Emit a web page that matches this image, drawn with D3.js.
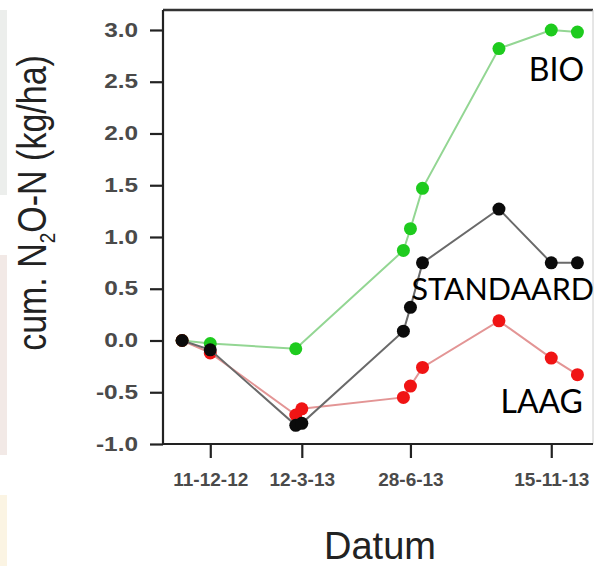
<!DOCTYPE html>
<html>
<head>
<meta charset="utf-8">
<script src="https://cdn.jsdelivr.net/npm/d3@7"></script>
<style>
  body { margin: 0; background: #fff; }
  svg { display: block; }
</style>
</head>
<body>
<div id="chart"></div>
<script>
// measurement dates (shared by all three series)
var dates = ["2012-11-13", "2012-12-11", "2013-03-06", "2013-03-12", "2013-06-21",
  "2013-06-28", "2013-07-10", "2013-09-24", "2013-11-15", "2013-12-11"];

// cumulative N2O-N (kg/ha), null = no measurement
var bioValues = [0, -0.03, -0.08, null, 0.87, 1.08, 1.47, 2.82, 3.0, 2.98];
var standaardValues = [0, -0.09, -0.82, -0.80, 0.09, 0.32, 0.75, 1.27, 0.75, 0.75];
var laagValues = [0, -0.12, -0.72, -0.66, -0.55, -0.44, -0.26, 0.19, -0.17, -0.33];

var xTickDates = ["2012-12-11", "2013-03-12", "2013-06-28", "2013-11-15"];
var yTicks = [-1.0, -0.5, 0.0, 0.5, 1.0, 1.5, 2.0, 2.5, 3.0];

var width = 594,
  height = 566;

var margin = { top: 10, right: 1, bottom: 122, left: 163 };

var parse = d3.timeParse("%Y-%m-%d");
var fmt = d3.timeFormat("%-d-%-m-%y");
var yFmt = function (d) { return d3.format(".1f")(d).replace("\u2212", "-"); };

var svg = d3.select("#chart")
  .append("svg")
  .attr("width", width)
  .attr("height", height);

// faint coloured strips along the left edge of the scan
svg.append("rect").attr("x", 0).attr("y", 10).attr("width", 7).attr("height", 185).style("fill", "#eceeec");
svg.append("rect").attr("x", 0).attr("y", 255).attr("width", 7).attr("height", 200).style("fill", "#f2e9e6");
svg.append("rect").attr("x", 0).attr("y", 495).attr("width", 7).attr("height", 71).style("fill", "#fbf4e3");

var x = d3.scaleTime()
  .domain([parse("2012-10-25"), new Date(2013, 11, 26, 12)])
  .range([margin.left, width - margin.right]);

var y = d3.scaleLinear()
  .domain([-1.0, 3.193])
  .range([height - margin.bottom, margin.top]);

// frame
svg.append("line")
  .attr("x1", margin.left).attr("x2", width - margin.right)
  .attr("y1", margin.top).attr("y2", margin.top)
  .style("stroke", "#333").style("stroke-width", 2.5);
svg.append("line")
  .attr("x1", width - margin.right).attr("x2", width - margin.right)
  .attr("y1", margin.top).attr("y2", height - margin.bottom)
  .style("stroke", "#ccc").style("stroke-width", 1);

var yAxis = svg.append("g")
  .attr("transform", "translate(" + margin.left + ",0)")
  .call(d3.axisLeft(y).tickValues(yTicks).tickFormat(yFmt).tickSize(13).tickPadding(12));

var xAxis = svg.append("g")
  .attr("transform", "translate(0," + (height - margin.bottom) + ")")
  .call(d3.axisBottom(x).tickValues(xTickDates.map(parse)).tickFormat(fmt).tickSize(14).tickPadding(15));

svg.selectAll(".domain, .tick line")
  .style("stroke", "#222")
  .style("stroke-width", 2.2);

xAxis.select(".domain").attr("d", "M" + margin.left + ",0H" + (width - margin.right));
yAxis.select(".domain").attr("d", "M0," + margin.top + "V" + (height - margin.bottom));

xAxis.selectAll(".tick text")
  .style("font-family", "Liberation Sans, Arial, sans-serif")
  .style("font-size", "19px")
  .style("font-weight", "bold")
  .style("fill", "#4a4a4a");

// y tick labels are horizontally stretched in the scan
yAxis.selectAll(".tick text")
  .style("font-family", "Liberation Sans, Arial, sans-serif")
  .style("font-size", "19.5px")
  .style("font-weight", "bold")
  .style("fill", "#4a4a4a")
  .attr("x", null)
  .attr("transform", "translate(-25,0) scale(1.25,1)");

// axis titles
svg.append("text")
  .attr("x", 380)
  .attr("y", 559)
  .attr("text-anchor", "middle")
  .style("font-family", "Liberation Sans, Arial, sans-serif")
  .style("font-size", "38px")
  .style("fill", "#222")
  .text("Datum");

var yTitle = svg.append("text")
  .attr("transform", "translate(46,203) scale(1.18,1) rotate(-90)")
  .attr("text-anchor", "middle")
  .style("font-family", "Liberation Sans, Arial, sans-serif")
  .style("font-size", "34px")
  .style("fill", "#222");
yTitle.append("tspan").text("cum. N");
yTitle.append("tspan").attr("dy", 8).style("font-size", "19px").text("2");
yTitle.append("tspan").attr("dy", -8).text("O-N (kg/ha)");

var series = [
  { name: "BIO", values: bioValues, line: "#93d693", dot: "#1ecb1e" },
  { name: "LAAG", values: laagValues, line: "#e39595", dot: "#f01414" },
  { name: "STANDAARD", values: standaardValues, line: "#6a6a6a", dot: "#0b0b0b" }
];

var line = d3.line()
  .x(function (d) { return x(d.date); })
  .y(function (d) { return y(d.v); });

series.forEach(function (s) {
  var pts = dates.map(function (d, i) { return { date: parse(d), v: s.values[i] }; })
    .filter(function (d) { return d.v !== null; });

  svg.append("path")
    .datum(pts)
    .attr("d", line)
    .style("fill", "none")
    .style("stroke", s.line)
    .style("stroke-width", 2);

  svg.append("g").selectAll("circle")
    .data(pts)
    .enter().append("circle")
    .attr("cx", function (d) { return x(d.date); })
    .attr("cy", function (d) { return y(d.v); })
    .attr("r", 6.5)
    .style("fill", s.dot);
});

// series labels
var labels = [
  { text: "BIO", x: 584, y: 81, size: 32 },
  { text: "STANDAARD", x: 594, y: 300, size: 30.5 },
  { text: "LAAG", x: 583, y: 413, size: 32 }
];
svg.selectAll(".series-label")
  .data(labels)
  .enter().append("text")
  .attr("class", "series-label")
  .attr("x", function (d) { return d.x; })
  .attr("y", function (d) { return d.y; })
  .attr("text-anchor", "end")
  .style("font-family", "Lato, 'Open Sans', sans-serif")
  .style("font-size", function (d) { return d.size + "px"; })
  .style("fill", "#000")
  .text(function (d) { return d.text; });
</script>
</body>
</html>
